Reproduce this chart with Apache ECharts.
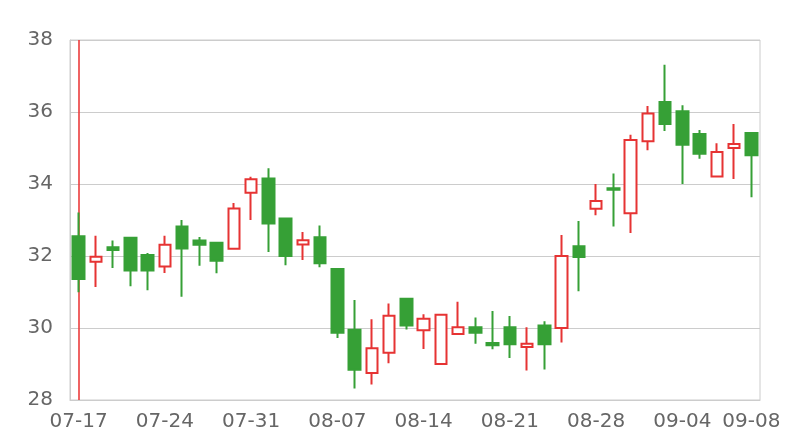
<!DOCTYPE html>
<html>
<head>
<meta charset="utf-8">
<style>
html,body{margin:0;padding:0;background:#fff;}
#chart{width:800px;height:440px;}
</style>
<script src="https://cdn.jsdelivr.net/npm/echarts@6/dist/echarts.min.js"></script>
</head>
<body>
<div id="chart"></div>
<script>
var categories = ['07-17','07-18','07-19','07-20','07-21',
  '07-24','07-25','07-26','07-27','07-28',
  '07-31','08-01','08-02','08-03','08-04',
  '08-07','08-08','08-09','08-10','08-11',
  '08-14','08-15','08-16','08-17','08-18',
  '08-21','08-22','08-23','08-24','08-25',
  '08-28','08-29','08-30','08-31','09-01',
  '09-04','09-05','09-06','09-07','09-08'];
var opens  = [32.55,31.84,32.24,32.51,32.03,31.71,32.82,32.43,32.37,32.20,
              33.76,34.15,33.04,32.32,32.52,31.64,29.95,28.75,29.31,30.81,
              29.94,29.00,29.83,30.02,29.58,30.02,29.47,30.07,30.00,32.27,
              33.31,33.88,33.19,35.19,36.28,36.02,35.39,34.21,35.00,35.42];
var closes = [31.36,31.98,32.17,31.60,31.60,32.31,32.21,32.31,31.87,33.32,
              34.13,32.90,32.00,32.44,31.80,29.87,28.84,29.44,30.34,30.07,
              30.26,30.37,30.02,29.87,29.52,29.55,29.56,29.55,32.00,31.97,
              33.53,33.84,35.22,35.96,35.67,35.09,34.84,34.89,35.11,34.80];
var lows   = [30.99,31.14,31.67,31.16,31.05,31.53,30.87,31.73,31.52,32.20,
              33.00,32.11,31.74,31.89,31.69,29.72,28.32,28.43,29.02,29.96,
              29.42,29.00,29.83,29.56,29.41,29.17,28.82,28.85,29.60,31.02,
              33.13,32.82,32.64,34.94,35.47,34.00,34.70,34.21,34.14,33.63];
var highs  = [33.21,32.56,32.43,32.52,32.08,32.56,33.00,32.53,32.37,33.47,
              34.20,34.44,33.04,32.67,32.85,31.64,30.78,30.24,30.68,30.82,
              30.38,30.37,30.73,30.29,30.47,30.33,30.02,30.19,32.58,32.97,
              34.00,34.29,35.37,36.17,37.31,36.19,35.50,35.13,35.67,35.42];
var yTicks = [28, 30, 32, 34, 36, 38];
var markedDate = '07-17';

var data = categories.map(function (c, i) {
  return [opens[i], closes[i], lows[i], highs[i]];
});

var chart = echarts.init(document.getElementById('chart'), null, {renderer: 'canvas'});
chart.setOption({
  animation: false,
  backgroundColor: '#fff',
  grid: {left: 70, right: 40, top: 40, bottom: 40, show: true, borderColor: '#ccc', borderWidth: 1},
  xAxis: {
    type: 'category',
    data: categories,
    boundaryGap: true,
    axisLine: {show: true, lineStyle: {color: '#ccc'}},
    axisTick: {show: false},
    splitLine: {show: false},
    axisLabel: {
      color: '#666',
      fontSize: 20,
      fontFamily: 'DejaVu Sans',
      margin: 12,
      interval: function (i) { return i % 5 === 0 || i === categories.length - 1; }
    }
  },
  yAxis: {
    type: 'value',
    min: yTicks[0],
    max: yTicks[yTicks.length - 1],
    interval: 2,
    axisLine: {show: true, lineStyle: {color: '#ccc'}},
    axisTick: {show: false},
    splitLine: {show: true, lineStyle: {color: '#ccc'}},
    axisLabel: {color: '#666', fontSize: 20, fontFamily: 'DejaVu Sans', margin: 17}
  },
  series: [{
    type: 'candlestick',
    data: data,
    barWidth: '70%',
    itemStyle: {
      color: '#fff',
      color0: '#36a036',
      borderColor: '#e63333',
      borderColor0: '#36a036',
      borderWidth: 2
    },
    markLine: {
      silent: true,
      symbol: ['none', 'none'],
      label: {show: false},
      z: 1,
      lineStyle: {color: 'rgba(235,60,60,0.8)', width: 2, type: 'solid'},
      data: [{xAxis: markedDate}]
    }
  }]
});
</script>
</body>
</html>
